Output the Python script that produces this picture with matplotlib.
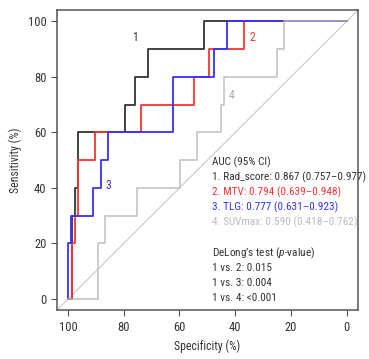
import matplotlib.pyplot as plt

plt.rcParams['font.family'] = ['Roboto Condensed', 'DejaVu Sans']
plt.rcParams['mathtext.fontset'] = 'custom'
plt.rcParams['mathtext.it'] = 'Roboto Condensed:italic'
plt.rcParams['mathtext.rm'] = 'Roboto Condensed'

# ROC step curves: (specificity %, sensitivity %)
rad_spec = [100, 98.7, 98.7, 97.5, 97.5, 96.4, 96.4, 79.6, 79.6, 76.0, 76.0, 71.3, 71.3, 51.3, 51.3, 0]
rad_sens = [0, 0, 30, 30, 40, 40, 60, 60, 70, 70, 80, 80, 90, 90, 100, 100]

mtv_spec = [100, 98.7, 98.7, 97.6, 97.6, 96.4, 96.4, 90.2, 90.2, 73.8, 73.8, 54.8, 54.8, 49.5, 49.5, 36.9, 36.9, 0]
mtv_sens = [0, 0, 20, 20, 30, 30, 50, 50, 60, 60, 70, 70, 80, 80, 90, 90, 100, 100]

tlg_spec = [100, 100, 98.9, 98.9, 90.9, 90.9, 88.2, 88.2, 85.8, 85.8, 62.2, 62.2, 47.7, 47.7, 42.8, 42.8, 0]
tlg_sens = [0, 20, 20, 30, 30, 40, 40, 50, 50, 60, 60, 80, 80, 90, 90, 100, 100]

suv_spec = [100, 89.2, 89.2, 86.7, 86.7, 75.1, 75.1, 59.9, 59.9, 53.6, 53.6, 45.2, 45.2, 44.2, 44.2, 25.0, 25.0, 22.6, 22.6, 0]
suv_sens = [0, 0, 20, 20, 30, 30, 40, 40, 50, 50, 60, 60, 70, 70, 80, 80, 90, 90, 100, 100]

ticks = [0, 20, 40, 60, 80, 100]

auc_lines = ["AUC (95% CI)",
             "1. Rad_score: 0.867 (0.757\u20130.977)",
             "2. MTV: 0.794 (0.639\u20130.948)",
             "3. TLG: 0.777 (0.631\u20130.923)",
             "4. SUVmax: 0.590 (0.418\u20130.762)"]
auc_colors = ['#333333', '#333333', '#ff3333', '#3333ff', '#bbbbbb']
delong_lines = [r"DeLong’s test ($p$-value)",
                "1 vs. 2: 0.015",
                "1 vs. 3: 0.004",
                "1 vs. 4: <0.001"]

fig = plt.figure(figsize=(3.69, 3.59), dpi=100)
ax = fig.add_axes([0.154, 0.136, 0.816, 0.836])

ax.plot([104, -4], [-4, 104], color='#c8c8c8', lw=0.8)
ax.plot(rad_spec, rad_sens, color='#333333', lw=1.3)
ax.plot(mtv_spec, mtv_sens, color='#ff3333', lw=1.3)
ax.plot(tlg_spec, tlg_sens, color='#3333ff', lw=1.3)
ax.plot(suv_spec, suv_sens, color='#bbbbbb', lw=1.3, alpha=0.8)

ax.text(75.8, 94.1, "1", color='#333333', fontsize=8.5, ha='center', va='center')
ax.text(34.0, 94.3, "2", color='#ff3333', fontsize=8.5, ha='center', va='center')
ax.text(85.6, 40.8, "3", color='#3333ff', fontsize=8.5, ha='center', va='center')
ax.text(41.2, 73.1, "4", color='#aaaaaa', fontsize=8.5, ha='center', va='center')

auc_y = [49.2, 43.8, 38.4, 33.0, 27.6]
for txt, col, yy in zip(auc_lines, auc_colors, auc_y):
    ax.text(48.4, yy, txt, color=col, fontsize=8.1, ha='left', va='center')
delong_y = [16.5, 11.2, 5.6, 0.25]
for txt, yy in zip(delong_lines, delong_y):
    ax.text(48.4, yy, txt, color='#333333', fontsize=8.1, ha='left', va='center')

ax.set_xlim(104, -4)
ax.set_ylim(-4, 104)
ax.set_xticks(ticks)
ax.set_yticks(ticks)
ax.tick_params(colors='#555555', labelcolor='#333333', labelsize=9, length=4, width=0.8)
for s in ax.spines.values():
    s.set_color('#555555')
    s.set_linewidth(1.1)
ax.set_xlabel("Specificity (%)", fontsize=8.5, color='#333333')
ax.set_ylabel("Sensitivity (%)", fontsize=8.5, color='#333333')

fig.savefig('out.png', dpi=100)
